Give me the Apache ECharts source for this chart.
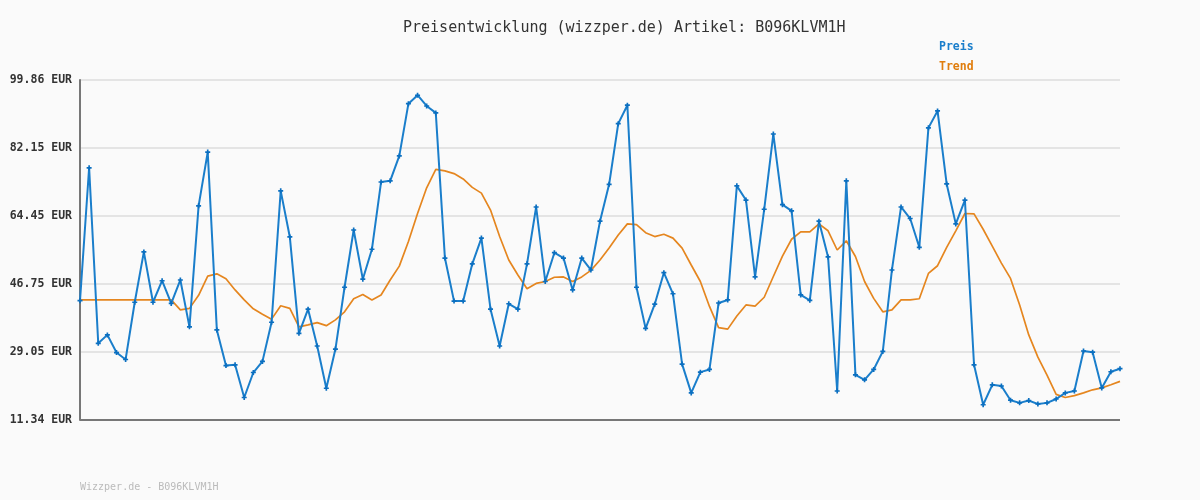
<!DOCTYPE html>
<html>
<head>
<meta charset="utf-8">
<style>
  html, body { margin: 0; padding: 0; background: #fafafa; }
  #chart { width: 1200px; height: 500px; }
</style>
<script src="https://cdn.jsdelivr.net/npm/echarts@6/dist/echarts.min.js"></script>
</head>
<body>
<div id="chart"></div>
<script>
// Preis (EUR)
const preis = [
  42.4, 77.0, 31.3, 33.5, 28.9, 27.1, 42.0, 55.1, 42.0, 47.6,
  41.7, 47.8, 35.6, 67.1, 81.1, 34.8, 25.5, 25.7, 17.2, 23.7,
  26.6, 36.8, 71.0, 59.0, 33.9, 40.2, 30.6, 19.6, 29.8, 45.9,
  60.8, 48.0, 55.8, 73.3, 73.6, 80.1, 93.7, 95.9, 93.1, 91.3,
  53.5, 42.3, 42.3, 52.0, 58.7, 40.2, 30.6, 41.6, 40.2, 52.0,
  66.8, 47.4, 54.9, 53.5, 45.2, 53.5, 50.4, 63.1, 72.7, 88.5,
  93.3, 45.9, 35.2, 41.5, 49.7, 44.2, 25.9, 18.4, 23.8, 24.5,
  41.8, 42.6, 72.3, 68.6, 48.6, 66.2, 85.8, 67.4, 65.8, 43.9,
  42.5, 63.1, 53.8, 18.9, 73.6, 23.1, 21.8, 24.5, 29.2, 50.4,
  66.8, 63.8, 56.3, 87.4, 91.8, 72.8, 62.4, 68.6, 25.7, 15.3,
  20.5, 20.2, 16.5, 15.8, 16.4, 15.5, 15.8, 16.8, 18.4, 18.9,
  29.3, 29.0, 19.7, 23.9, 24.7
];

// Trend (EUR)
const trend = [
  42.6, 42.6, 42.6, 42.6, 42.6, 42.6, 42.6, 42.6, 42.6, 42.6,
  42.6, 40.0, 40.4, 43.8, 48.8, 49.4, 48.1, 45.2, 42.6, 40.3,
  38.9, 37.6, 41.1, 40.4, 35.6, 36.1, 36.7, 35.9, 37.4, 39.5,
  42.9, 44.0, 42.6, 43.9, 47.8, 51.4, 57.8, 65.1, 71.8, 76.6,
  76.2, 75.5, 74.1, 71.9, 70.4, 66.0, 59.1, 53.0, 49.1, 45.5,
  46.9, 47.4, 48.5, 48.6, 47.4, 48.6, 50.3, 53.0, 56.1, 59.5,
  62.4, 62.2, 60.1, 59.1, 59.7, 58.7, 56.1, 51.7, 47.4, 40.9,
  35.4, 35.0, 38.4, 41.3, 41.0, 43.3, 48.7, 54.0, 58.4, 60.3,
  60.3, 62.4, 60.6, 55.6, 58.0, 53.9, 47.4, 43.0, 39.5, 40.0,
  42.6, 42.6, 42.9, 49.5, 51.5, 56.3, 60.6, 65.1, 65.0, 61.0,
  56.6, 52.2, 48.2, 41.3, 33.5, 27.7, 23.0, 18.0, 17.2, 17.7,
  18.4, 19.2, 19.7, 20.5, 21.4
];

const yTickLabels = ['11.34', '29.05', '46.75', '64.45', '82.15', '99.86'];
const yMin = 11.34;
const yMax = 99.86;
const yStep = (yMax - yMin) / 5;

const blue = '#1a7ecb';
const orange = '#e5861f';
const mono = '"DejaVu Sans Mono", "Liberation Mono", monospace';

const chart = echarts.init(document.getElementById('chart'));
chart.setOption({
  backgroundColor: '#fafafa',
  animation: false,
  title: [
    {
      text: 'Preisentwicklung (wizzper.de) Artikel: B096KLVM1H',
      left: 403,
      top: 21,
      padding: 0,
      textStyle: { fontFamily: mono, fontSize: 15, fontWeight: 'normal', color: '#333' }
    },
    {
      text: 'Wizzper.de - B096KLVM1H',
      left: 80,
      top: 482,
      padding: 0,
      textStyle: { fontFamily: mono, fontSize: 10, fontWeight: 'normal', color: '#bbb' }
    }
  ],
  legend: {
    orient: 'vertical',
    left: 934,
    top: 40,
    padding: 0,
    itemWidth: 0,
    itemHeight: 14,
    itemGap: 6,
    icon: 'rect',
    selectedMode: false,
    data: [
      { name: 'Preis', textStyle: { color: blue } },
      { name: 'Trend', textStyle: { color: '#e07d0d' } }
    ],
    textStyle: { fontFamily: mono, fontSize: 11.5, fontWeight: 'bold', lineHeight: 14 }
  },
  grid: { left: 80, right: 80, top: 80, bottom: 80, containLabel: false },
  xAxis: {
    type: 'category',
    boundaryGap: false,
    axisLine: { show: false },
    axisTick: { show: false },
    axisLabel: { show: false },
    splitLine: { show: false }
  },
  yAxis: {
    type: 'value',
    min: yMin,
    max: yMax,
    interval: yStep,
    axisLine: { show: true, lineStyle: { color: '#777', width: 2 } },
    axisTick: { show: false },
    axisLabel: {
      margin: 8,
      fontFamily: mono,
      fontSize: 11.5,
      fontWeight: 'bold',
      color: '#333',
      formatter: function (v) {
        return yTickLabels[Math.round((v - yMin) / yStep)] + ' EUR';
      }
    },
    splitLine: { show: true, lineStyle: { color: '#e4e4e4', width: 2 } }
  },
  series: [
    {
      name: 'Preis',
      type: 'line',
      data: preis,
      symbol: 'path://M2,0H4V2H6V4H4V6H2V4H0V2H2Z',
      symbolSize: 5,
      showSymbol: true,
      lineStyle: { color: blue, width: 2 },
      itemStyle: { color: '#0b6fc0' },
      z: 3
    },
    {
      name: 'Trend',
      type: 'line',
      data: trend,
      symbol: 'none',
      lineStyle: { color: orange, width: 1.7 },
      itemStyle: { color: orange },
      z: 2
    }
  ],
  graphic: [
    {
      type: 'line',
      shape: { x1: 80, y1: 420, x2: 1120, y2: 420 },
      style: { stroke: '#777', lineWidth: 2 },
      z: 10
    }
  ]
});
</script>
</body>
</html>
